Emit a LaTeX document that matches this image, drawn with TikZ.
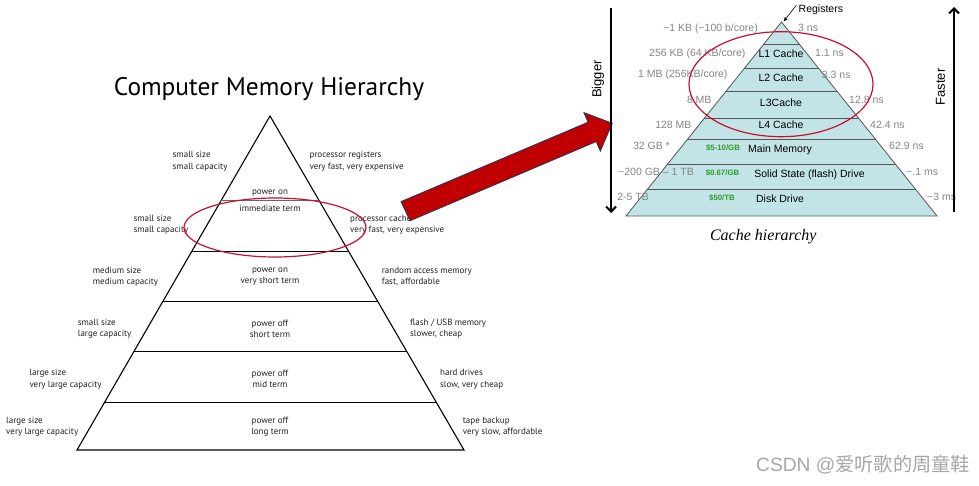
\documentclass[tikz,border=0pt]{standalone}
\usepackage{fontspec}
\setmainfont{Liberation Sans}
\newfontfamily\ptsans{PT Sans}
\newfontfamily\serifit{Liberation Serif}
\newfontfamily\cjk{Noto Sans CJK SC}
\usetikzlibrary{calc,arrows.meta,shapes.geometric}
\definecolor{lefttext}{HTML}{231F20}
\definecolor{cyanfill}{HTML}{C3E4E6}
\definecolor{rowline}{HTML}{555555}
\definecolor{labelgray}{HTML}{858585}
\definecolor{pricegreen}{HTML}{2E9A2E}
\definecolor{ellred}{HTML}{C8102E}
\definecolor{arrowred}{HTML}{C00000}
\definecolor{arrowedge}{HTML}{1F3A5F}
\definecolor{wmgray}{HTML}{A6A6A6}
\tikzset{
  lt/.style={font=\ptsans\fontsize{9}{11.2}\selectfont, text=lefttext, inner sep=0pt, align=left, anchor=west},
  ct/.style={font=\ptsans\fontsize{9}{11.2}\selectfont, text=lefttext, inner sep=0pt, align=center},
  pyr/.style={draw=black, line width=1.1pt},
  row/.style={draw=black, line width=1.1pt},
  rt/.style={font=\fontsize{10.5}{12}\selectfont, text=black, inner sep=0pt},
  gl/.style={font=\fontsize{10.5}{12}\selectfont, text=labelgray, inner sep=0pt, anchor=east},
  gr/.style={font=\fontsize{10.5}{12}\selectfont, text=labelgray, inner sep=0pt, anchor=west},
  price/.style={font=\bfseries\fontsize{7.8}{9}\selectfont, text=pricegreen, inner sep=0pt},
  redring/.style={ellipse, draw=ellred, line width=1.2pt, inner sep=0pt},
  bigarrow/.style={line width=2.2pt, -{Straight Barb[length=5pt,width=10pt,line width=2pt]}},
}
\begin{document}
\begin{tikzpicture}[x=1pt,y=-1pt]
\useasboundingbox (0,0) rectangle (979,486);

% ---------------- left pyramid ----------------
\node (title) at (269,89) {\ptsans\fontsize{25.4}{29}\selectfont Computer Memory Hierarchy};

\coordinate (LA) at (270,116);
\coordinate (LBL) at (77,450);
\coordinate (LBR) at (464,450);
\draw[pyr, line join=miter] (LBL) -- (LA) -- (LBR) -- cycle;
\draw[draw=black!60, line width=1.8pt] ($(LA)!0.2530!(LBL)$) -- ($(LA)!0.2530!(LBR)$);
\draw[row] ($(LA)!0.4057!(LBL)$) -- ($(LA)!0.4057!(LBR)$);
\draw[row] ($(LA)!0.5549!(LBL)$) -- ($(LA)!0.5549!(LBR)$);
\draw[row] ($(LA)!0.7046!(LBL)$) -- ($(LA)!0.7046!(LBR)$);
\draw[row] ($(LA)!0.8572!(LBL)$) -- ($(LA)!0.8572!(LBR)$);

\node[lt] (l1) at (172.5,161.2) {small size\\small capacity};
\node[lt] (r1) at (309.3,161.2) {processor registers\\very fast, very expensive};
\node[ct] (c1a) at (270,192.7) {power on};
\node[ct] (c1b) at (270,208.3) {immediate term};
\node[lt] (l2) at (133.3,225) {small size\\small capacity};
\node[lt] (r2) at (350,225) {processor cache\\very fast, very expensive};
\node[lt] (l3) at (92.7,276.5) {medium size\\medium capacity};
\node[ct] (c3) at (270,276.5) {power on\\very short term};
\node[lt] (r3) at (381.7,276.5) {random access memory\\fast, affordable};
\node[lt] (l4) at (77.7,328.7) {small size\\large capacity};
\node[ct] (c4) at (270,328.7) {power off\\short term};
\node[lt] (r4) at (410,328.7) {flash / USB memory\\slower, cheap};
\node[lt] (l5) at (29.3,379.2) {large size\\very large capacity};
\node[ct] (c5) at (270,379.2) {power off\\mid term};
\node[lt] (r5) at (440,379.2) {hard drives\\slow, very cheap};
\node[lt] (l6) at (6,426.7) {large size\\very large capacity};
\node[ct] (c6) at (270,426.7) {power off\\long term};
\node[lt] (r6) at (462.7,426.7) {tape backup\\very slow, affordable};

\node[redring, minimum width=182pt, minimum height=59pt] (ringL) at (275,227.5) {};

% ---------------- big red arrow ----------------
\filldraw[fill=arrowred, draw=arrowedge, line width=0.8pt, line join=miter]
  (401,201.6) -- (588,122.2) -- (583.9,112.6) -- (612.3,123.3)
  -- (600.3,151.2) -- (596.2,141.6) -- (410,220.8) -- cycle;

% ---------------- right pyramid ----------------
\coordinate (RA) at (781.5,22);
\coordinate (RBL) at (626,216);
\coordinate (RBR) at (937,216);
\filldraw[fill=cyanfill, draw=rowline, line width=0.8pt] (RBL) -- (RA) -- (RBR) -- cycle;
\foreach \t in {0.1134,0.2387,0.3582,0.4974,0.6057,0.7345,0.8634}
  \draw[draw=rowline, line width=0.8pt] ($(RA)!\t!(RBL)$) -- ($(RA)!\t!(RBR)$);

\node[rt] (L1) at (781,53.3) {L1 Cache};
\node[rt] (L2) at (781,78) {L2 Cache};
\node[rt] (L3) at (781,103) {L3Cache};
\node[rt] (L4) at (781,125) {L4 Cache};
\node[rt] (MM) at (780,150) {Main Memory};
\node[rt] (SSD) at (809.5,175) {Solid State (flash) Drive};
\node[rt] (HDD) at (780,199) {Disk Drive};
\node[price] (p1) at (723,148.3) {\$5-10/GB};
\node[price] (p2) at (722.5,173) {\$0.67/GB};
\node[price] (p3) at (722,198) {\$50/TB};

\node[gl] (s0) at (758,28.3) {\textasciitilde 1 KB (\textasciitilde 100 b/core)};
\node[gl] (s1) at (745.7,53.3) {256 KB (64 KB/core)};
\node[gl] (s2) at (727.7,75) {1 MB (256KB/core)};
\node[gl] (s3) at (711.7,100) {8 MB};
\node[gl] (s4) at (691.7,125) {128 MB};
\node[gl] (s5) at (670,146) {32 GB *};
\node[gl] (s6) at (694,171.7) {\textasciitilde 200 GB – 1 TB};
\node[gl] (s7) at (649,196.7) {2-5 TB};

\node[gr] (t0) at (798,28.3) {3 ns};
\node[gr] (t1) at (815,53.3) {1.1 ns};
\node[gr] (t2) at (821.7,75) {3.3 ns};
\node[gr] (t3) at (849,100) {12.8 ns};
\node[gr] (t4) at (870,125) {42.4 ns};
\node[gr] (t5) at (889,146) {62.9 ns};
\node[gr] (t6) at (906,171.7) {\textasciitilde .1 ms};
\node[gr] (t7) at (927,196.7) {\textasciitilde 3 ms};

\node[rt, anchor=west] (reg) at (798.5,10) {Registers};
\coordinate (regtail) at (796.5,5);
\coordinate (regtip) at (783.6,21.5);
\draw[line width=0.6pt, -{Stealth[length=5pt,width=4pt]}] (regtail) -- (regtip);

\node[redring, minimum width=184pt, minimum height=105pt] (ringR) at (781,84.2) {};

\coordinate (bigtop) at (611,8);
\coordinate (bigbot) at (611,213);
\draw[bigarrow] (bigtop) -- (bigbot);
\node[rotate=90, font=\fontsize{13}{15}\selectfont, inner sep=0pt] (bigger) at (598,79) {Bigger};

\coordinate (fastbot) at (954,212);
\coordinate (fasttop) at (954,7);
\draw[bigarrow] (fastbot) -- (fasttop);
\node[rotate=90, font=\fontsize{13}{15}\selectfont, inner sep=0pt] (faster) at (940.5,87) {Faster};

\node[font=\serifit\itshape\fontsize{16}{18}\selectfont, inner sep=0pt] (cap) at (763.3,237) {Cache hierarchy};

% ---------------- watermark ----------------
\node[anchor=east, text=wmgray, inner sep=0pt, font=\fontsize{19.2}{22}\selectfont] (wm) at (970,465) {CSDN @{\cjk 爱听歌的周童鞋}};
\end{tikzpicture}
\end{document}
